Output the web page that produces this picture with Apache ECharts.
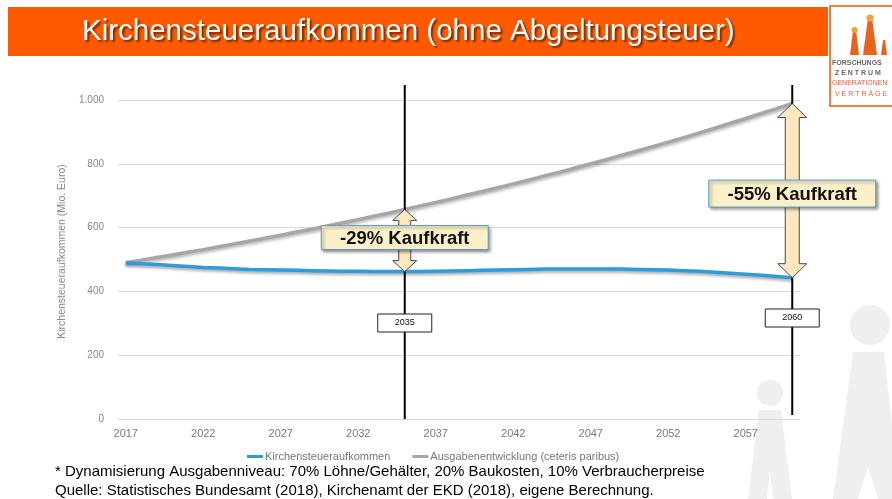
<!DOCTYPE html>
<html><head><meta charset="utf-8">
<script src="https://cdn.jsdelivr.net/npm/echarts@6/dist/echarts.min.js"></script>
<style>html,body{margin:0;padding:0;background:#fff}#c{width:892px;height:499px}</style>
</head><body><div id="c"></div>
<script>
var years = [];
for (var y = 2017; y <= 2060; y++) years.push(String(y));
var kirchensteuer = [490,487,484,481,478,475,473,471,469,468,467,466,465,464,463,463,462,462,462,462,463,464,465,466,467,468,469,470,470,470,470,470,470,469,468,467,465,463,460,457,454,451,447,443];
var ausgaben = [490,498,506,514,523,531,540,549,558,567,576,586,595,605,615,625,636,646,657,668,679,690,702,713,725,737,749,762,774,787,800,813,827,840,854,868,882,897,912,927,942,958,973,989];
var seriesNames = ['Kirchensteueraufkommen','Ausgabenentwicklung (ceteris paribus)'];
var markers = [{year:'2035', label:'-29% Kaufkraft'},{year:'2060', label:'-55% Kaufkraft'}];
var titleText = 'Kirchensteueraufkommen (ohne Abgeltungsteuer)';
var yAxisName = 'Kirchensteueraufkommen (Mio. Euro)';
var footLines = ['* Dynamisierung Ausgabenniveau: 70% Löhne/Gehälter, 20% Baukosten, 10% Verbraucherpreise','Quelle: Statistisches Bundesamt (2018), Kirchenamt der EKD (2018), eigene Berechnung.'];
var logoLines = ['FORSCHUNGS','ZENTRUM','GENERATIONEN','VERTRÄGE'];

var chart = echarts.init(document.getElementById('c'), null, {renderer:'canvas'});
var font = 'Liberation Sans, Arial, sans-serif';

var staticGraphics = [
  // watermark figures
  {type:'circle', z:-10, shape:{cx:770, cy:393, r:13}, style:{fill:'#efefef'}},
  {type:'polygon', z:-10, shape:{points:[[759,410],[781,410],[792,499],[773,499],[770,470],[767,499],[748,499]]}, style:{fill:'#efefef'}},
  {type:'circle', z:-10, shape:{cx:870, cy:325, r:20}, style:{fill:'#efefef'}},
  {type:'polygon', z:-10, shape:{points:[[853,352],[884,352],[900,499],[878,499],[868,467],[858,499],[833,499]]}, style:{fill:'#efefef'}},
  // title bar
  {type:'rect', shape:{x:8, y:7, width:820, height:49}, style:{fill:'#ff5a00'}},
  {type:'text', left:82, top:17, style:{text:titleText, fill:'#ffffff', font:'29.5px '+font, textShadowColor:'rgba(0,0,0,0.55)', textShadowOffsetX:2, textShadowOffsetY:2, textShadowBlur:2}},
  // logo
  {type:'rect', shape:{x:830, y:6, width:66, height:100}, style:{fill:'#ffffff', stroke:'#f08040', lineWidth:2}},
  {type:'polygon', shape:{points:[[850,55],[853,30],[856,30],[859,55]]}, style:{fill:'#e8641e'}},
  {type:'circle', shape:{cx:854.5, cy:30, r:3}, style:{fill:'#f2a040'}},
  {type:'polygon', shape:{points:[[863,55],[868,18],[872,18],[877,55]]}, style:{fill:'#e8641e'}},
  {type:'circle', shape:{cx:870, cy:18, r:3.5}, style:{fill:'#f2a040'}},
  {type:'polygon', shape:{points:[[881,55],[883,40],[885,40],[887,55]]}, style:{fill:'#e8641e'}},
  {type:'text', left:832, top:60, style:{text:logoLines[0], fill:'#666', font:'bold 7px '+font}},
  {type:'text', left:835, top:70, style:{text:logoLines[1].split('').join(' '), fill:'#666', font:'bold 7px '+font}},
  {type:'text', left:832, top:80, style:{text:logoLines[2], fill:'#e85f40', font:'7px '+font}},
  {type:'text', left:835, top:91, style:{text:logoLines[3].split('').join(' '), fill:'#e85f40', font:'7px '+font}},
  // footnote
  {type:'text', left:55, top:464, style:{text:footLines[0], fill:'#000', font:'15px '+font}},
  {type:'text', left:55, top:483, style:{text:footLines[1], fill:'#000', font:'15px '+font}}
];

chart.setOption({
  animation:false,
  grid:{left:118, right:92, top:100, bottom:80},
  legend:{left:242, top:446, itemWidth:16, itemHeight:3, itemGap:22, icon:'rect',
    textStyle:{color:'#777', fontSize:11, fontFamily:font, padding:[0,0,0,-3]},
    data:seriesNames},
  xAxis:{type:'category', data:years, boundaryGap:true,
    axisLine:{lineStyle:{color:'#d9d9d9', width:1}}, axisTick:{show:false},
    axisLabel:{interval:4, color:'#7a7a7a', fontSize:11, fontFamily:font, margin:9}},
  yAxis:{type:'value', min:0, max:1000, interval:200,
    name:yAxisName, nameLocation:'middle', nameGap:48, nameRotate:90,
    nameTextStyle:{color:'#888', fontSize:10.5, fontFamily:font, padding:[0,0,0,16]},
    axisLabel:{color:'#888', fontSize:10, fontFamily:font, margin:14,
      formatter:function(v){return v>=1000 ? String(v).replace(/(\d)(\d{3})$/,'$1.$2') : String(v);}},
    splitLine:{lineStyle:{color:'#d9d9d9', width:1}}, axisLine:{show:false}, axisTick:{show:false}},
  series:[
    {name:seriesNames[0], type:'line', data:kirchensteuer, symbol:'none', z:3,
      lineStyle:{color:'#2f9bd7', width:3.5, shadowColor:'rgba(0,0,0,0.35)', shadowBlur:3, shadowOffsetY:2}, itemStyle:{color:'#2f9bd7'}},
    {name:seriesNames[1], type:'line', data:ausgaben, symbol:'none', z:2,
      lineStyle:{color:'#a6a6a6', width:3.5, shadowColor:'rgba(0,0,0,0.3)', shadowBlur:3, shadowOffsetY:2}, itemStyle:{color:'#a6a6a6'}}
  ],
  graphic: staticGraphics
});

// annotations via the chart's own scales
var ann = [];
markers.forEach(function(m, k){
  var idx = years.indexOf(m.year);
  var top = chart.convertToPixel({gridIndex:0}, [idx, 1047]);
  var bot = chart.convertToPixel({gridIndex:0}, [idx, 0]);
  var pG = chart.convertToPixel({gridIndex:0}, [idx, ausgaben[idx]]);
  var pB = chart.convertToPixel({gridIndex:0}, [idx, kirchensteuer[idx]]);
  var cx = pG[0];
  ann.push({type:'line', z:100, shape:{x1:cx, y1:top[1], x2:cx, y2:bot[1] - (k===1?4:0)}, style:{stroke:'#000', lineWidth:2}});
  var s = k===0 ? 6 : 7, h = k===0 ? 12 : 14.5, L = k===0 ? 11 : 14;
  var yT = pG[1], yB = pB[1];
  ann.push({type:'polygon', z:101, shape:{points:[[cx,yT],[cx+h,yT+L],[cx+s,yT+L],[cx+s,yB-L],[cx+h,yB-L],[cx,yB],[cx-h,yB-L],[cx-s,yB-L],[cx-s,yT+L],[cx-h,yT+L]]},
    style:{fill:'#fee8c0', stroke:'#4a4a4a', lineWidth:1}});
  var my = (yT + yB) / 2 + (k===0 ? -3 : 3);
  var bw = 167, bh = k===0 ? 24 : 27;
  ann.push({type:'rect', z:102, shape:{x:cx - bw/2, y:my - bh/2, width:bw, height:bh},
    style:{fill:'#fcf0ca', stroke:'#5a9ac4', lineWidth:1, shadowColor:'rgba(0,0,0,0.45)', shadowBlur:3, shadowOffsetX:2, shadowOffsetY:2}});
  ann.push({type:'text', z:103, x:cx, y:my + 1, style:{text:m.label, fill:'#111', font:'bold 18.5px '+font, align:'center', verticalAlign:'middle'}});
  // year box
  var yb = k===0 ? 323 : 318;
  ann.push({type:'rect', z:102, shape:{x:cx - 27, y:yb - 9, width:54, height:18}, style:{fill:'#fff', stroke:'#222', lineWidth:1}});
  ann.push({type:'text', z:103, x:cx, y:yb, style:{text:m.year, fill:'#111', font:'9px '+font, align:'center', verticalAlign:'middle'}});
});
chart.setOption({graphic: staticGraphics.concat(ann)});
</script></body></html>
